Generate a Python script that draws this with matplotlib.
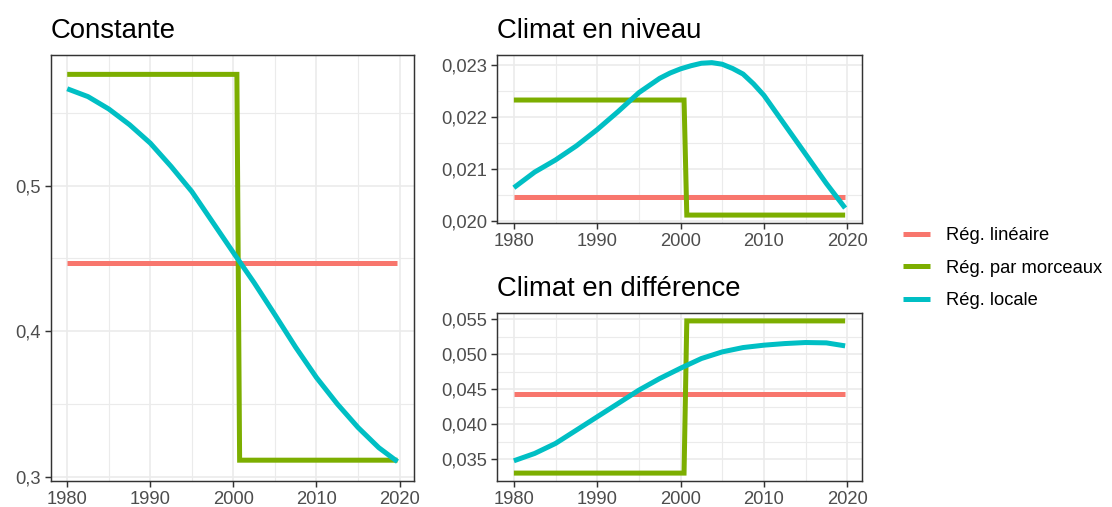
import matplotlib
matplotlib.use("Agg")
import matplotlib.pyplot as plt
from matplotlib.ticker import FuncFormatter, FixedLocator
from matplotlib.lines import Line2D

plt.rcParams['font.family'] = ['Liberation Sans', 'DejaVu Sans']

# ---------------- data ----------------
series_names = ["Rég. linéaire", "Rég. par morceaux", "Rég. locale"]
colors = ["#F8766D", "#7CAE00", "#00BFC4"]

x_start, x_end = 1980.0, 2019.75
step_x = [1980.0, 2000.42, 2000.75, 2019.75]
curve_x = [1980, 1982.5, 1985, 1987.5, 1990, 1992.5, 1995, 1997.5, 2000,
           2002.5, 2005, 2007.5, 2010, 2012.5, 2015, 2017.5, 2019.75]

# Constante
const_lin = 0.4469
const_step = [0.5766, 0.5766, 0.3113, 0.3113]
const_loc = [0.5667, 0.5613, 0.5528, 0.5420, 0.5293, 0.5133, 0.4960, 0.4750, 0.4540,
             0.4333, 0.4113, 0.3889, 0.3681, 0.3500, 0.3338, 0.3199, 0.3103]

# Climat en niveau
niv_lin = 0.020467
niv_step = [0.02233, 0.02233, 0.020115, 0.020115]
niv_x = [1980, 1982.5, 1985, 1987.5, 1990, 1992.5, 1995, 1997.5, 1998.75, 2000,
         2001.25, 2002.5, 2003.75, 2005, 2006.25, 2007.5, 2008.75, 2010,
         2012.5, 2015, 2017.5, 2019.75]
niv_loc = [0.020642, 0.020943, 0.021176, 0.021447, 0.021761, 0.022107, 0.022472,
           0.022748, 0.022850, 0.022930, 0.022990, 0.023038, 0.023050, 0.023019,
           0.022937, 0.022830, 0.022642, 0.022421, 0.021855, 0.021289, 0.020723,
           0.020250]

# Climat en différence
dif_lin = 0.04426
dif_step = [0.03300, 0.03300, 0.05476, 0.05476]
dif_loc = [0.03476, 0.03581, 0.03724, 0.03914, 0.04105, 0.04295, 0.04486, 0.04652,
           0.04800, 0.04938, 0.05033, 0.05095, 0.05129, 0.05152, 0.05167, 0.05162,
           0.05119]

x_ticks = [1980, 1990, 2000, 2010, 2020]
x_minor = [1985, 1995, 2005, 2015]

panels = [
    dict(title="Constante", lin=const_lin, step=const_step, cx=curve_x, loc=const_loc,
         yt=[0.3, 0.4, 0.5], ym=[0.35, 0.45, 0.55], fmt="{:.1f}",
         pos=[50.7, 55, 414, 481]),
    dict(title="Climat en niveau", lin=niv_lin, step=niv_step, cx=niv_x, loc=niv_loc,
         yt=[0.020, 0.021, 0.022, 0.023], ym=[0.0205, 0.0215, 0.0225], fmt="{:.3f}",
         pos=[497.3, 55, 861.7, 222.7]),
    dict(title="Climat en différence", lin=dif_lin, step=dif_step, cx=curve_x, loc=dif_loc,
         yt=[0.035, 0.040, 0.045, 0.050, 0.055],
         ym=[0.0375, 0.0425, 0.0475, 0.0525], fmt="{:.3f}",
         pos=[497.3, 313.3, 861.7, 480.7]),
]

W, H = 1112, 507
fig = plt.figure(figsize=(W / 150, H / 150), dpi=150)

LW = 2.4
for p in panels:
    x0, y0, x1, y1 = p["pos"]
    ax = fig.add_axes([x0 / W, 1 - y1 / H, (x1 - x0) / W, (y1 - y0) / H])
    ax.set_axisbelow(True)
    ax.plot([x_start, x_end], [p["lin"], p["lin"]], color=colors[0], lw=LW,
            solid_capstyle='butt')
    ax.plot(step_x, p["step"], color=colors[1], lw=LW, solid_capstyle='butt',
            solid_joinstyle='miter')
    ax.plot(p["cx"], p["loc"], color=colors[2], lw=LW, solid_capstyle='butt',
            solid_joinstyle='round')
    ax.margins(x=0.05, y=0.05)

    ax.xaxis.set_major_locator(FixedLocator(x_ticks))
    ax.xaxis.set_minor_locator(FixedLocator(x_minor))
    ax.yaxis.set_major_locator(FixedLocator(p["yt"]))
    ax.yaxis.set_minor_locator(FixedLocator(p["ym"]))
    fmt = p["fmt"]
    ax.yaxis.set_major_formatter(FuncFormatter(lambda v, pos, f=fmt: f.format(v).replace(".", ",")))
    ax.xaxis.set_major_formatter(FuncFormatter(lambda v, pos: "{:d}".format(int(round(v)))))

    ax.grid(which="major", color="#EBEBEB", lw=0.8)
    ax.grid(which="minor", color="#EBEBEB", lw=0.55)
    ax.tick_params(which="major", direction="out", length=2.75, width=0.7,
                   color="#333333", labelcolor="#4D4D4D", labelsize=8.8, pad=2.2)
    ax.tick_params(which="minor", length=0)
    for s in ax.spines.values():
        s.set_color("#333333")
        s.set_linewidth(0.7)
    ax.set_title(p["title"], loc="left", fontsize=13.2, pad=8.3, color="black")

handles = [Line2D([], [], color=c, lw=LW, solid_capstyle='butt') for c in colors]
fig.legend(handles, series_names, loc="center left",
           bbox_to_anchor=(903 / W, 1 - 268 / H), frameon=False,
           fontsize=8.8, handlelength=1.47, handletextpad=0.85,
           labelspacing=0.85, borderpad=0, borderaxespad=0)

fig.savefig("out.png", dpi=150, facecolor="white")
